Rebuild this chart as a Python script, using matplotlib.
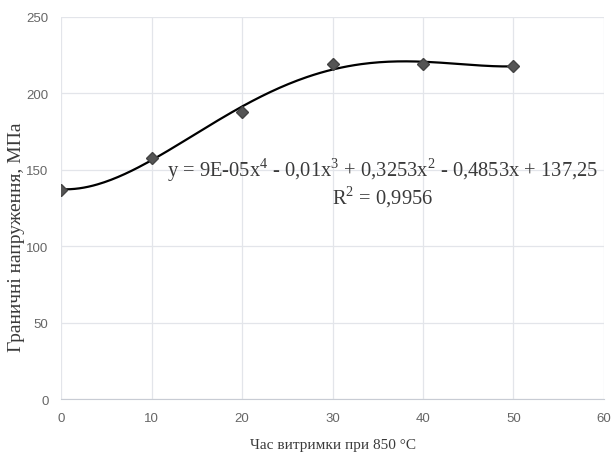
import numpy as np
import matplotlib

matplotlib.use("Agg")
import matplotlib.pyplot as plt  # noqa: E402

# holding time at 850 C, min / ultimate stress, MPa
hold_time = [0, 10, 20, 30, 40, 50]
stress = [137, 158, 188, 219, 219, 218]
equation = "y = 9E-05x$^4$ - 0,01x$^3$ + 0,3253x$^2$ - 0,4853x + 137,25"
r2_text = "R$^2$ = 0,9956"

SERIF = ["Liberation Serif", "DejaVu Serif"]
TICK = ["Liberation Sans Narrow", "Liberation Sans", "DejaVu Sans"]
plt.rcParams["mathtext.fontset"] = "custom"
plt.rcParams["mathtext.rm"] = "Liberation Serif"

fig = plt.figure(figsize=(6.11, 4.6), dpi=100)
ax = fig.add_axes([0.1, 0.13, 0.8885, 0.831])

# 4th-order trendline fitted to the points, like the spreadsheet did
coef = np.polyfit(hold_time, stress, 4)
xs = np.linspace(min(hold_time), max(hold_time), 200)
ax.plot(xs, np.polyval(coef, xs), color="black", lw=1.6, zorder=2)
ax.plot(hold_time, stress, ls="none", marker="D", ms=6.5, color="#555555",
        markeredgecolor="#444444", zorder=3)

ax.set_xlim(0, 60)
ax.set_ylim(0, 250)
ax.set_xticks(range(0, 61, 10))
ax.set_yticks(range(0, 251, 50))
ax.grid(color="#e3e5ea", lw=0.9)
ax.set_axisbelow(True)
for side in ("top", "right", "left"):
    ax.spines[side].set_visible(False)
ax.spines["bottom"].set_color("#c8ccd4")
ax.tick_params(length=0, pad=9, colors="#666666", labelsize=9.5)
for lbl in ax.get_xticklabels() + ax.get_yticklabels():
    lbl.set_family(TICK)

ax.text(35.5, 150.5, equation, ha="center", va="center", fontsize=14.8,
        family=SERIF, color="#3a3a3a")
ax.text(35.5, 133, r2_text, ha="center", va="center", fontsize=14.8,
        family=SERIF, color="#3a3a3a")

ax.set_xlabel("Час витримки при 850 °С", family=SERIF, fontsize=11,
              color="#3a3a3a", labelpad=10)
ax.set_ylabel("Граничні напруження, МПа", family=SERIF, fontsize=14,
              color="#3a3a3a")
ax.yaxis.set_label_coords(-0.066, 0.425)

fig.savefig("out.png", dpi=100)
